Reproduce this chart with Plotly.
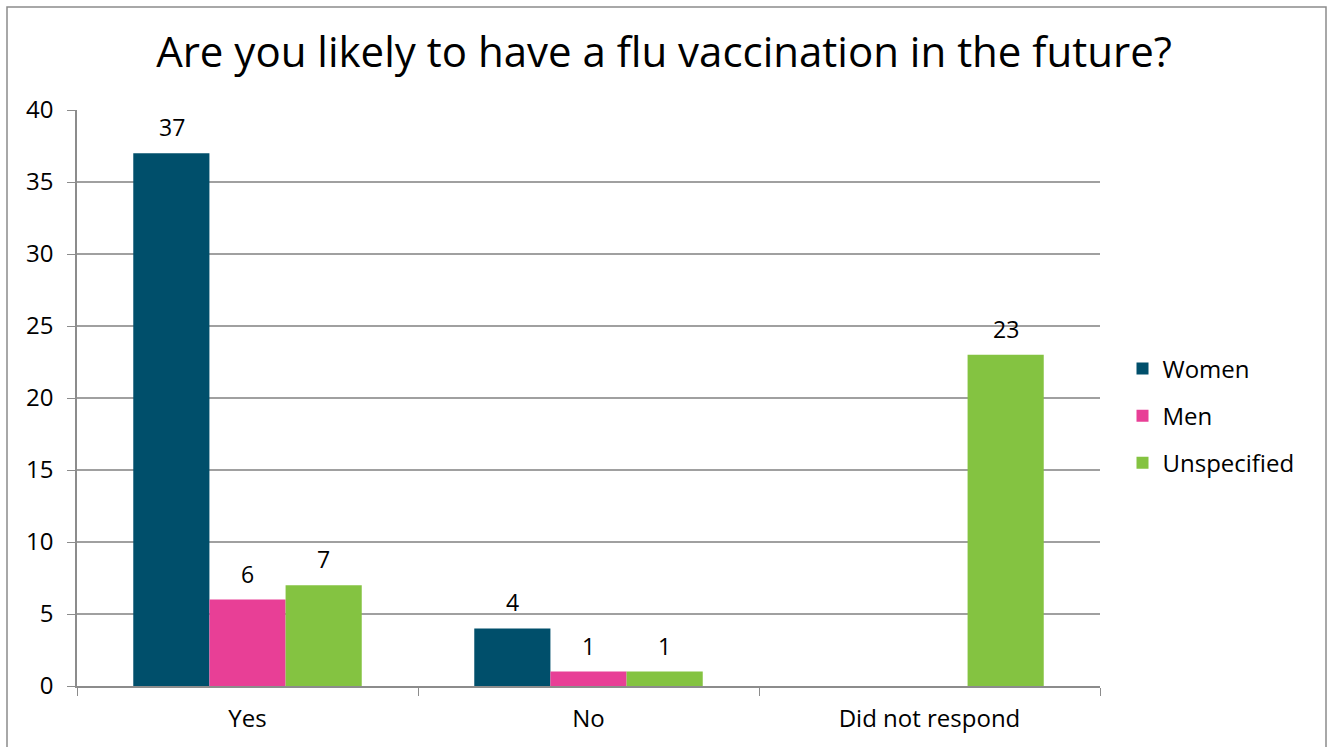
import plotly.graph_objects as go

categories = ["Yes", "No", "Did not respond"]
series_names = ["Women", "Men", "Unspecified"]
women = [37, 4, None]
men = [6, 1, None]
unspecified = [7, 1, 23]
colors = ["#004F6B", "#E83F96", "#84C341"]
y_ticks = [0, 5, 10, 15, 20, 25, 30, 35, 40]

FONT = "Open Sans"
values = [women, men, unspecified]

fig = go.Figure()
for name, vals, col in zip(series_names, values, colors):
    fig.add_trace(go.Bar(
        x=categories, y=vals, name=name, legendgroup=name,
        marker=dict(color=col, line=dict(width=0)),
    ))

# value labels above each bar
bar_px = 76
for i, vals in enumerate(values):
    for cat, v in zip(categories, vals):
        if v is None:
            continue
        fig.add_annotation(
            x=cat, y=v, text=str(v), showarrow=False,
            xref="x", yref="y", yanchor="bottom",
            xshift=(i - 1) * bar_px, yshift=8,
            font=dict(family=FONT, size=23, color="#000000"),
        )

fig.update_layout(
    width=1328, height=747,
    paper_bgcolor="white", plot_bgcolor="white",
    margin=dict(l=77, r=228, t=110, b=61),
    barmode="group", bargap=0.33, bargroupgap=0,
    title=dict(
        text="Are you likely to have a flu vaccination in the future?",
        x=0.5, xref="container", xanchor="center",
        y=0.930, yref="container", yanchor="middle",
        font=dict(family=FONT, size=42, color="#000000"),
    ),
    legend=dict(
        x=1.022, xanchor="left", y=0.469, yanchor="middle",
        font=dict(family=FONT, size=24, color="#000000"),
        itemwidth=30, tracegroupgap=13,
    ),
    font=dict(family=FONT, color="#000000"),
)

fig.update_yaxes(
    range=[0, 40], tickvals=y_ticks,
    showgrid=True, gridcolor="#A0A0A0", gridwidth=1.5,
    showline=True, linecolor="#8C8C8C", linewidth=1.5,
    ticks="outside", ticklen=8, tickcolor="#8C8C8C",
    ticklabelstandoff=9,
    tickfont=dict(family=FONT, size=24, color="#000000"),
    zeroline=False, fixedrange=True,
)
fig.update_xaxes(
    showline=True, linecolor="#8C8C8C", linewidth=2,
    ticks="outside", ticklen=8, tickcolor="#8C8C8C",
    tickson="boundaries", ticklabelstandoff=10,
    tickfont=dict(family=FONT, size=24, color="#000000"),
    fixedrange=True,
)

# chart border
fig.add_shape(type="rect", xref="paper", yref="paper",
              x0=(7 - 77) / 1023, x1=(1326 - 77) / 1023,
              y0=(686 - 760) / 576, y1=(686 - 7) / 576,
              line=dict(color="#8C8C8C", width=1.5), fillcolor="rgba(0,0,0,0)")

fig.write_html("out.html")
